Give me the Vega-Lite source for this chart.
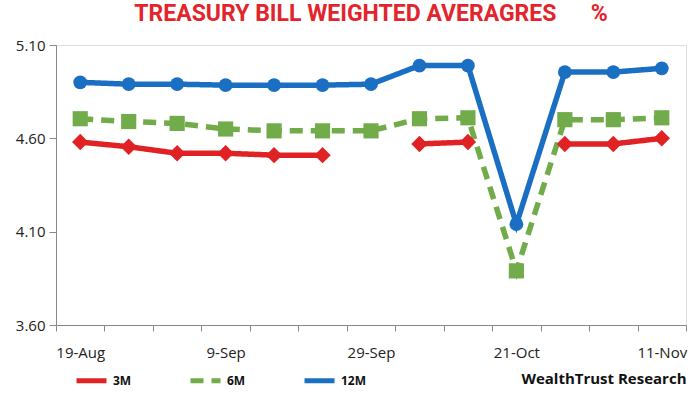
{
  "$schema": "https://vega.github.io/schema/vega-lite/v6.json",
  "width": 630,
  "height": 280,
  "autosize": {"type": "none"},
  "padding": {"left": 56, "top": 45, "right": 14, "bottom": 75},
  "background": "white",
  "title": {
    "text": "TREASURY BILL WEIGHTED AVERAGRES\u00a0\u00a0\u00a0\u00a0\u00a0\u00a0%",
    "color": "#e3242b",
    "font": "Roboto, sans-serif",
    "fontSize": 23,
    "fontWeight": "bold",
    "anchor": "middle",
    "offset": 12
  },
  "data": {
    "values": [
      {"date": "19-Aug", "tenor": "3M", "rate": 4.58},
      {"date": "26-Aug", "tenor": "3M", "rate": 4.555},
      {"date": "2-Sep", "tenor": "3M", "rate": 4.52},
      {"date": "9-Sep", "tenor": "3M", "rate": 4.52},
      {"date": "16-Sep", "tenor": "3M", "rate": 4.51},
      {"date": "23-Sep", "tenor": "3M", "rate": 4.51},
      {"date": "29-Sep", "tenor": "3M", "rate": null},
      {"date": "7-Oct", "tenor": "3M", "rate": 4.57},
      {"date": "14-Oct", "tenor": "3M", "rate": 4.58},
      {"date": "21-Oct", "tenor": "3M", "rate": null},
      {"date": "28-Oct", "tenor": "3M", "rate": 4.57},
      {"date": "4-Nov", "tenor": "3M", "rate": 4.57},
      {"date": "11-Nov", "tenor": "3M", "rate": 4.60},
      {"date": "19-Aug", "tenor": "6M", "rate": 4.705},
      {"date": "26-Aug", "tenor": "6M", "rate": 4.69},
      {"date": "2-Sep", "tenor": "6M", "rate": 4.68},
      {"date": "9-Sep", "tenor": "6M", "rate": 4.65},
      {"date": "16-Sep", "tenor": "6M", "rate": 4.64},
      {"date": "23-Sep", "tenor": "6M", "rate": 4.64},
      {"date": "29-Sep", "tenor": "6M", "rate": 4.64},
      {"date": "7-Oct", "tenor": "6M", "rate": 4.705},
      {"date": "14-Oct", "tenor": "6M", "rate": 4.71},
      {"date": "21-Oct", "tenor": "6M", "rate": 3.89},
      {"date": "28-Oct", "tenor": "6M", "rate": 4.70},
      {"date": "4-Nov", "tenor": "6M", "rate": 4.70},
      {"date": "11-Nov", "tenor": "6M", "rate": 4.71},
      {"date": "19-Aug", "tenor": "12M", "rate": 4.90},
      {"date": "26-Aug", "tenor": "12M", "rate": 4.89},
      {"date": "2-Sep", "tenor": "12M", "rate": 4.89},
      {"date": "9-Sep", "tenor": "12M", "rate": 4.885},
      {"date": "16-Sep", "tenor": "12M", "rate": 4.885},
      {"date": "23-Sep", "tenor": "12M", "rate": 4.885},
      {"date": "29-Sep", "tenor": "12M", "rate": 4.89},
      {"date": "7-Oct", "tenor": "12M", "rate": 4.99},
      {"date": "14-Oct", "tenor": "12M", "rate": 4.99},
      {"date": "21-Oct", "tenor": "12M", "rate": 4.14},
      {"date": "28-Oct", "tenor": "12M", "rate": 4.955},
      {"date": "4-Nov", "tenor": "12M", "rate": 4.955},
      {"date": "11-Nov", "tenor": "12M", "rate": 4.975}
    ]
  },
  "encoding": {
    "x": {
      "field": "date",
      "type": "ordinal",
      "sort": null,
      "bandPosition": 0.5,
      "scale": {"type": "band", "paddingInner": 0, "paddingOuter": 0},
      "axis": {
        "title": "WealthTrust Research",
        "titleAnchor": "end",
        "titleAlign": "right",
        "titleFont": "Open Sans, sans-serif",
        "titleFontSize": 15,
        "titleFontWeight": "bold",
        "titleColor": "#111",
        "titlePadding": 11,
        "labelAngle": 0,
        "labelFont": "Open Sans, sans-serif",
        "labelFontSize": 15,
        "labelColor": "#222",
        "labelPadding": 14,
        "labelExpr": "indexof(['19-Aug','9-Sep','29-Sep','21-Oct','11-Nov'], datum.value) >= 0 ? datum.value : ''",
        "tickBand": "extent",
        "tickSize": 6,
        "tickColor": "#888",
        "domainColor": "#888",
        "grid": false
      }
    },
    "y": {
      "field": "rate",
      "type": "quantitative",
      "scale": {"domain": [3.6, 5.1], "zero": false, "nice": false},
      "axis": {
        "title": null,
        "values": [3.6, 4.1, 4.6, 5.1],
        "format": ".2f",
        "labelFont": "Open Sans, sans-serif",
        "labelFontSize": 15,
        "labelColor": "#222",
        "labelPadding": 4,
        "tickSize": 7,
        "tickColor": "#888",
        "domainColor": "#888",
        "grid": false
      }
    }
  },
  "resolve": {"legend": {"color": "independent", "shape": "independent", "size": "independent", "strokeDash": "independent"}},
  "layer": [
    {
      "mark": {"type": "line", "strokeWidth": 5.5, "invalid": "break-paths-show-domains"},
      "encoding": {
        "color": {
          "field": "tenor",
          "type": "nominal",
          "sort": ["3M", "6M", "12M"],
          "scale": {"domain": ["3M", "6M", "12M"], "range": ["#e02224", "#71ab4a", "#1b6fc2"]},
          "legend": {
            "title": null,
            "orient": "none",
            "legendX": 18,
            "legendY": 318,
            "direction": "horizontal",
            "symbolType": "stroke",
            "symbolStrokeWidth": 5,
            "symbolSize": 900,
            "columnPadding": 48,
            "labelFont": "Open Sans, sans-serif",
            "labelFontSize": 12,
            "labelFontWeight": "bold",
            "labelColor": "#111",
            "labelOffset": 4
          }
        },
        "strokeDash": {
          "field": "tenor",
          "type": "nominal",
          "sort": ["3M", "6M", "12M"],
          "scale": {"domain": ["3M", "6M", "12M"], "range": [[1, 0], [13, 8], [1, 0]]}
        }
      }
    },
    {
      "mark": {"type": "point", "filled": true, "opacity": 1},
      "encoding": {
        "color": {
          "field": "tenor",
          "type": "nominal",
          "sort": ["3M", "6M", "12M"],
          "scale": {"domain": ["3M", "6M", "12M"], "range": ["#e02224", "#71ab4a", "#1b6fc2"]},
          "legend": null
        },
        "shape": {
          "field": "tenor",
          "type": "nominal",
          "scale": {"domain": ["3M", "6M", "12M"], "range": ["diamond", "square", "circle"]},
          "legend": null
        },
        "size": {
          "field": "tenor",
          "type": "nominal",
          "scale": {"domain": ["3M", "6M", "12M"], "range": [270, 190, 300]},
          "legend": null
        }
      }
    }
  ]
}
